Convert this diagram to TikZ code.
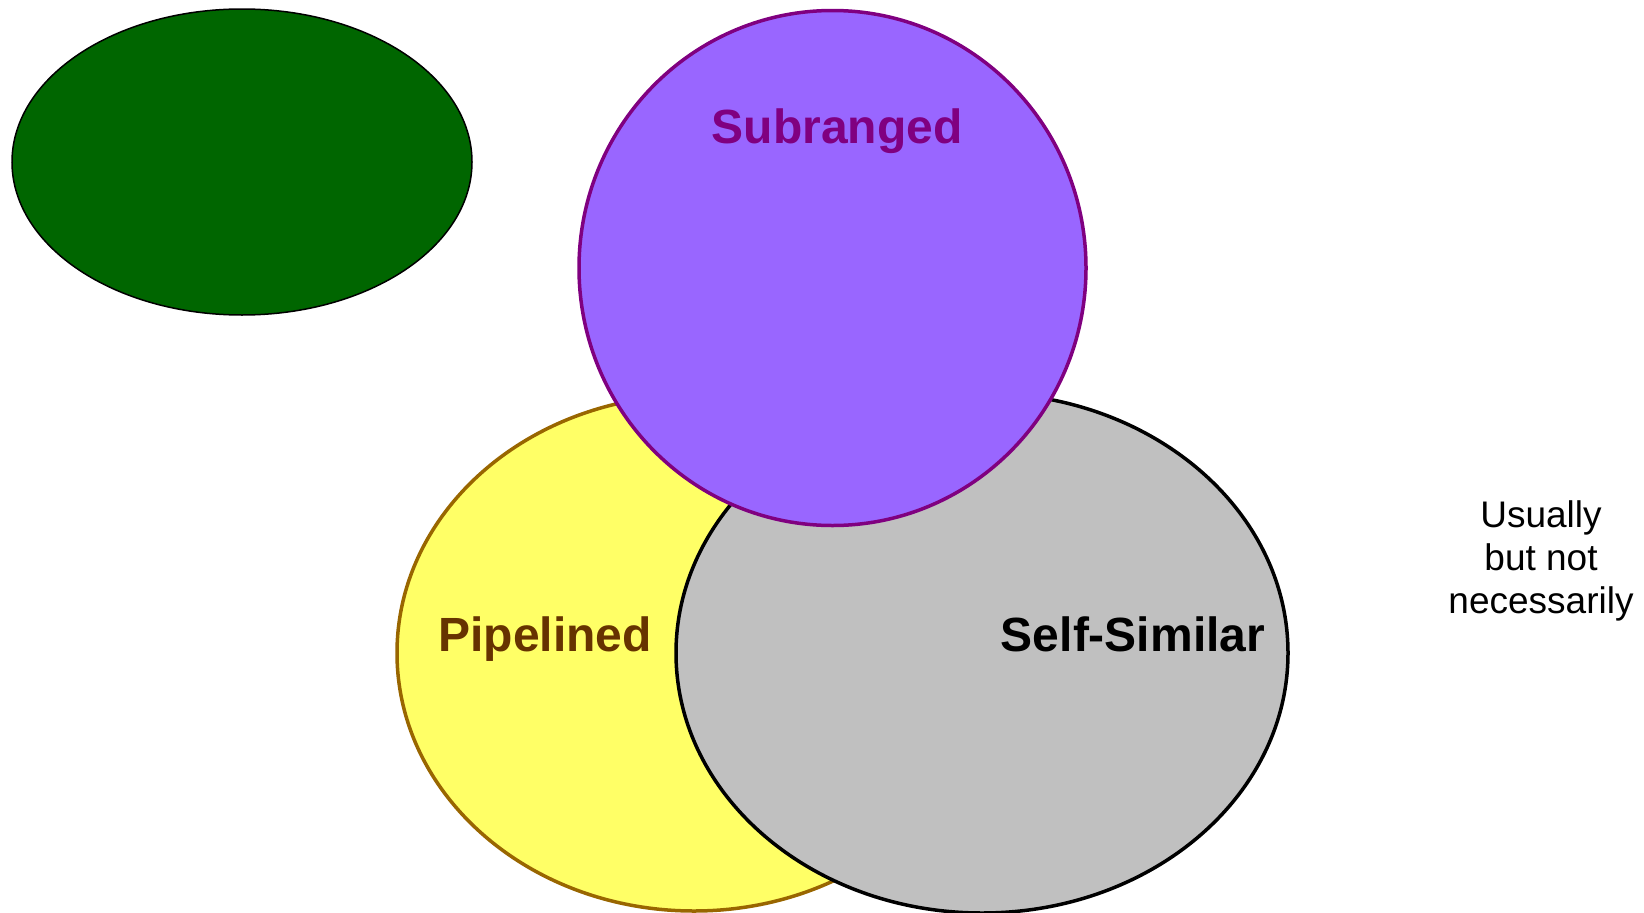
\documentclass[tikz,border=0pt]{standalone}
\usepackage{fontspec}
\setmainfont{Liberation Sans}
\usetikzlibrary{shapes.geometric}
\definecolor{fastgreen}{HTML}{006600}
\definecolor{pipeyellow}{HTML}{FFFF66}
\definecolor{pipebrown}{HTML}{996600}
\definecolor{pipetext}{HTML}{663300}
\definecolor{selfgray}{HTML}{C0C0C0}
\definecolor{subviolet}{HTML}{9966FF}
\definecolor{subpurple}{HTML}{800080}
\begin{document}
\begin{tikzpicture}[x=1pt,y=-1pt,
    blob/.style={ellipse,inner sep=0pt,line width=3.5pt},
    lbl/.style={font=\bfseries\fontsize{48}{58}\selectfont,anchor=base}]
  \useasboundingbox (0,0) rectangle (1644,913);
  \draw
    (242,162) node[blob,draw=black,line width=1.5pt,fill=fastgreen,
      minimum width=460pt,minimum height=306pt] (flash){}
    (694,653) node[blob,draw=pipebrown,fill=pipeyellow,
      minimum width=594pt,minimum height=516pt] (pipe){}
    (982,653) node[blob,draw=black,fill=selfgray,
      minimum width=612pt,minimum height=520pt] (self){}
    (832.5,268) node[blob,draw=subpurple,fill=subviolet,
      minimum width=507pt,minimum height=515pt] (sub){};
  \begin{scope}[every node/.style={lbl}]
    \node[text=subpurple] (subtext) at (837,143) {Subranged};
    \node[text=pipetext] (pipetext) at (545,651) {Pipelined};
    \node[text=black] (selftext) at (1133,651) {Self-Similar};
  \end{scope}
  \node[font=\fontsize{37}{43}\selectfont,align=center] (note) at (1541,561)
    {Usually\\but not\\necessarily};
\end{tikzpicture}
\end{document}
